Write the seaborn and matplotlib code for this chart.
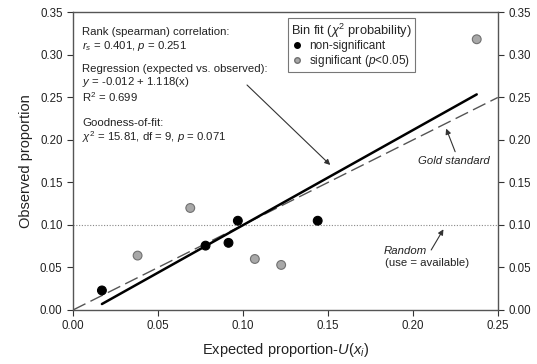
import numpy as np
import pandas as pd
import matplotlib
matplotlib.use("Agg")
import matplotlib.pyplot as plt
from matplotlib.lines import Line2D
import seaborn as sns

# ---- data ----
ns_expected = [0.017, 0.078, 0.0915, 0.097, 0.144]
ns_observed = [0.023, 0.0757, 0.079, 0.105, 0.105]
sig_expected = [0.038, 0.069, 0.107, 0.1225, 0.2376]
sig_observed = [0.064, 0.120, 0.060, 0.053, 0.3185]
reg_intercept = -0.012
reg_slope = 1.118
reg_x_range = [0.017, 0.2376]
random_level = 0.10
x_ticks = [0.00, 0.05, 0.10, 0.15, 0.20, 0.25]
y_ticks = [0.00, 0.05, 0.10, 0.15, 0.20, 0.25, 0.30, 0.35]

sns.set_theme(style="ticks")
plt.rcParams['font.family'] = ['Liberation Sans', 'DejaVu Sans']
plt.rcParams['mathtext.fontset'] = 'custom'
plt.rcParams['mathtext.rm'] = 'Liberation Sans'
plt.rcParams['mathtext.it'] = 'Liberation Sans:italic'

df = pd.DataFrame({
    "expected": ns_expected + sig_expected,
    "observed": ns_observed + sig_observed,
    "fit": ["non-significant"] * len(ns_expected) + ["significant"] * len(sig_expected),
})

fig = plt.figure(figsize=(5.37, 3.64), dpi=100)
ax = fig.add_axes([0.136, 0.1484, 0.791, 0.8173])

# reference lines
gx = np.array([0.0, 0.25])
sns.lineplot(x=gx, y=gx, ax=ax, color="#555555", lw=1.0, zorder=2)
ax.lines[-1].set_dashes((10, 4))
sns.lineplot(x=gx, y=[random_level, random_level], ax=ax, color="#888888", lw=0.8, zorder=1)
ax.lines[-1].set_linestyle((0, (1, 1.5)))

rx = np.array(reg_x_range)
sns.lineplot(x=rx, y=reg_intercept + reg_slope * rx, ax=ax, color="black", lw=1.8, zorder=3)

sns.scatterplot(data=df, x="expected", y="observed", hue="fit",
                palette={"non-significant": "black", "significant": "#a8a8a8"},
                edgecolor=None, s=40, legend=False, ax=ax, zorder=4)
cols = ax.collections[-1]
ec = ["black"] * len(ns_expected) + ["#707070"] * len(sig_expected)
cols.set_edgecolors(ec)
cols.set_linewidths(0.8)

ax.set_xlim(0, 0.25)
ax.set_ylim(0, 0.35)
ax.set_xticks(x_ticks)
ax.set_yticks(y_ticks)
ax.set_xticklabels([f"{v:.2f}" for v in x_ticks])
ax.set_yticklabels([f"{v:.2f}" for v in y_ticks])
ax.tick_params(axis="both", labelsize=8.3, colors="#333333", length=4, width=0.8,
               direction="out", labelcolor="#222222")
ax.tick_params(axis="y", right=True, labelright=True)
for sp in ax.spines.values():
    sp.set_color("#555555")
    sp.set_linewidth(1.0)

ax.set_xlabel("Expected proportion-$\\mathit{U}$($\\mathit{x}_{i}$)", fontsize=10.5, labelpad=6, color="#222222")
ax.set_ylabel("Observed proportion", fontsize=10.5, labelpad=5, color="#222222")

fs = 8.2
tk = dict(fontsize=fs, color="#222222", ha="left", va="center")
ax.text(0.0055, 0.3265, "Rank (spearman) correlation:", **tk)
ax.text(0.0055, 0.3108, "$\\mathit{r}_{s}$ = 0.401, $\\mathit{p}$ = 0.251", **tk)
ax.text(0.0055, 0.2836, "Regression (expected vs. observed):", **tk)
ax.text(0.0055, 0.2684, "$\\mathit{y}$ = -0.012 + 1.118(x)", **tk)
ax.text(0.0055, 0.2508, "R$^{2}$ = 0.699", **tk)
ax.text(0.0055, 0.2198, "Goodness-of-fit:", **tk)
ax.text(0.0055, 0.2033, "$\\chi^{2}$ = 15.81, df = 9, $\\mathit{p}$ = 0.071", **tk)

arrow = dict(arrowstyle="-|>", color="#333333", lw=0.8, mutation_scale=8, shrinkA=0, shrinkB=0)
ax.annotate("", xy=(0.1514, 0.1706), xytext=(0.1024, 0.2647), arrowprops=arrow)
ax.annotate("", xy=(0.2196, 0.2134), xytext=(0.2249, 0.1862), arrowprops=arrow)
ax.text(0.2239, 0.1753, "Gold standard", fontsize=fs, style="italic", ha="center", va="center", color="#222222")
ax.annotate("", xy=(0.218, 0.0949), xytext=(0.2108, 0.0706), arrowprops=arrow)
ax.text(0.1955, 0.0698, "Random", fontsize=fs, style="italic", ha="center", va="center", color="#222222")
ax.text(0.2082, 0.0552, "(use = available)", fontsize=fs, ha="center", va="center", color="#222222")

handles = [
    Line2D([], [], marker="o", ls="", color="black", markersize=4),
    Line2D([], [], marker="o", ls="", markerfacecolor="#a8a8a8", markeredgecolor="#707070", markersize=4),
]
leg = ax.legend(handles, ["non-significant", "significant ($\\mathit{p}$<0.05)"],
                title="Bin fit ($\\chi^{2}$ probability)", loc="upper left",
                bbox_to_anchor=(0.505, 0.982), fontsize=8.5, title_fontsize=9.3,
                frameon=True, fancybox=False, edgecolor="#555555",
                handletextpad=0.5, borderpad=0.3, labelspacing=0.05,
                handlelength=1.0, borderaxespad=0)
leg.get_frame().set_linewidth(0.8)
leg._legend_box.align = "left"

fig.savefig("out.png", dpi=100)
